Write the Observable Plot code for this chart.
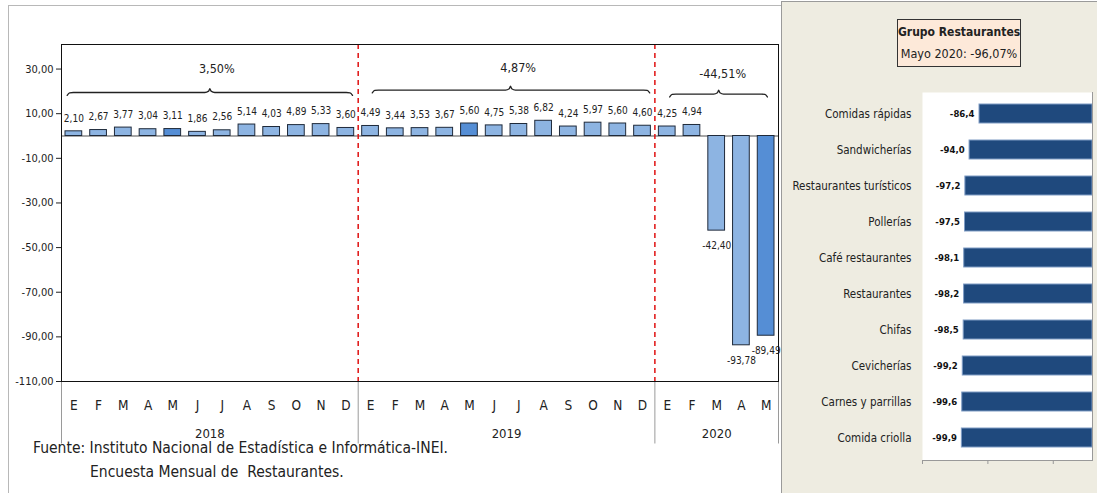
<!DOCTYPE html>
<html><head><meta charset="utf-8">
<script src="https://cdn.jsdelivr.net/npm/d3@7"></script>
<script src="https://cdn.jsdelivr.net/npm/@observablehq/plot@0.6"></script>
<style>
body{margin:0;width:1097px;height:493px;position:relative;overflow:hidden;background:#fff;
 font-family:"Liberation Sans Narrow","DejaVu Sans Condensed","Roboto Condensed",sans-serif;color:#222;}
#leftbox{position:absolute;left:8px;top:5px;width:774px;height:500px;border:1px solid #b8b8b8;box-sizing:border-box;}
#rightbox{position:absolute;left:781px;top:1px;width:318px;height:500px;background:#EEECE1;border:1px solid #9a9a9a;box-sizing:border-box;}
#left{position:absolute;left:0;top:0}
#right{position:absolute;left:781px;top:0}
#titlebox{position:absolute;left:897px;top:19px;width:124px;height:48px;background:#FDE9D9;border:1px solid #333;box-sizing:border-box;text-align:center;font-size:12.5px;line-height:22px;padding-top:1px;white-space:nowrap;}
#titlebox b{display:block;font-size:12px}
#caption{position:absolute;left:33px;top:436px;font-size:15.5px;line-height:24px;}
#caption .l2{padding-left:57px}
</style></head>
<body>
<div id="leftbox"></div>
<div id="rightbox"></div>
<div id="left"></div>
<div id="right"></div>
<div id="titlebox"><b>Grupo Restaurantes</b>Mayo 2020: -96,07%</div>
<div id="caption">Fuente: Instituto Nacional de Estadística e Informática-INEI.<div class="l2">Encuesta Mensual de&nbsp; Restaurantes.</div></div>
<script>
// ---- data: monthly variation (%) ----
const monthLetters = ["E","F","M","A","M","J","J","A","S","O","N","D"];
const years = ["2018","2019","2020"];
const values2018 = [2.10, 2.67, 3.77, 3.04, 3.11, 1.86, 2.56, 5.14, 4.03, 4.89, 5.33, 3.60];
const values2019 = [4.49, 3.44, 3.53, 3.67, 5.60, 4.75, 5.38, 6.82, 4.24, 5.97, 5.60, 4.60];
const values2020 = [4.25, 4.94, -42.40, -93.78, -89.49];
const highlightMonth = 4; // mayo
const yTicks = [30, 10, -10, -30, -50, -70, -90, -110];
// annual summary braces (index units / value units)
const braceLabels = ["3,50%", "4,87%", "-44,51%"];
const braceStart = [0.23, 12.57, 24.6];
const braceEnd = [11.77, 23.79, 28.55];
const braceMid = [6.0, 18.16, 26.58];
const braceLevel = [19.5, 20.6, 18.8];
const braceLabelX = [6.28, 18.47, 26.74];
const braceLabelY = [30.1, 30.5, 27.8];

// ---- data: right panel ----
const categories = ["Comidas rápidas","Sandwicherías","Restaurantes turísticos","Pollerías","Café restaurantes","Restaurantes","Chifas","Cevicherías","Carnes y parrillas","Comida criolla"];
const catValues = [-86.4, -94.0, -97.2, -97.5, -98.1, -98.2, -98.5, -99.2, -99.6, -99.9];

const FONT = '"Liberation Sans Narrow","DejaVu Sans Condensed","Roboto Condensed",sans-serif';
const loc = d3.formatLocale({decimal: ",", thousands: ".", grouping: [3], currency: ["", ""], minus: "-"});
const f2 = loc.format(".2f"), f1 = loc.format(".1f");

const series = [values2018, values2019, values2020];
const rows = [];
series.forEach((vals, yi) => vals.forEach((v, m) => rows.push({i: rows.length, m, month: monthLetters[m], year: years[yi], v})));
const yearGroups = years.map((y, k) => {
  const r = rows.filter(d => d.year === y);
  return {year: y, start: r[0].i, end: r[r.length - 1].i + 1};
});
const braces = braceLabels.map((label, k) => ({label, a: braceStart[k], b: braceEnd[k], m: braceMid[k], L: braceLevel[k], lx: braceLabelX[k], ly: braceLabelY[k]}));
const bracePts = braces.flatMap((br, k) => [
  {k, x: br.a, y: br.L - 1.3},
  {k, x: br.a + 0.1, y: br.L - 0.15},
  {k, x: br.a + 0.25, y: br.L},
  {k, x: br.m - 0.2, y: br.L},
  {k, x: br.m - 0.05, y: br.L + 0.6},
  {k, x: br.m, y: br.L + 1.7},
  {k, x: br.m + 0.05, y: br.L + 0.6},
  {k, x: br.m + 0.2, y: br.L},
  {k, x: br.b - 0.25, y: br.L},
  {k, x: br.b - 0.1, y: br.L - 0.15},
  {k, x: br.b, y: br.L - 1.3}
]);
const yMin = -110, yMax = 41;
const sepBottom = -138;

const left = Plot.plot({
  width: 780, height: 493,
  marginLeft: 61, marginRight: 2, marginTop: 44, marginBottom: 112,
  style: {fontFamily: FONT, fontSize: "11px", color: "#222", background: "transparent", overflow: "visible"},
  x: {domain: [0, rows.length], axis: null},
  y: {domain: [yMin, yMax], ticks: yTicks, tickFormat: f2, tickSize: 5, tickPadding: 3, label: null, line: false},
  marks: [
    Plot.ruleY([0], {stroke: "#8a8a8a", strokeWidth: 1.5}),
    Plot.rectY(rows, {x1: "i", x2: d => d.i + 1, y: "v", insetLeft: 4, insetRight: 4,
      fill: d => d.m === highlightMonth ? "#558ED5" : "#8DB4E2", stroke: "#1f2a3a", strokeWidth: 1}),
    Plot.text(rows.filter(d => d.v >= 0), {x: d => d.i + 0.5, y: "v", text: d => f2(d.v), dy: -13, fontSize: 10, fill: "#222"}),
    Plot.text(rows.filter(d => d.v < 0), {x: d => d.i + 0.5, y: "v", text: d => f2(d.v), dy: 15, fontSize: 10, fill: "#222"}),
    Plot.ruleX(yearGroups.slice(1), {x: "start", stroke: "#e01010", strokeWidth: 1.5, strokeDasharray: "5,4"}),
    Plot.ruleX([...yearGroups.map(d => d.start), rows.length], {x: d => d, y1: yMin, y2: sepBottom, stroke: "#9a9a9a"}),
    Plot.frame({stroke: "#111"}),
    Plot.line(bracePts, {x: "x", y: "y", z: "k", curve: "monotone-x", stroke: "#222", strokeWidth: 1.3}),
    Plot.text(braces, {x: "lx", y: "ly", text: "label", fontSize: 12.5, fill: "#222"}),
    Plot.text(rows, {x: d => d.i + 0.5, y: yMin, text: "month", dy: 24, fontSize: 13.5, fill: "#222"}),
    Plot.text(yearGroups, {x: d => (d.start + d.end) / 2, y: yMin, text: "year", dy: 52, fontSize: 13, fill: "#222"})
  ]
});
document.getElementById("left").append(left);

const cats = categories.map((name, k) => ({name, v: catValues[k]}));
const right = Plot.plot({
  width: 316, height: 493,
  marginLeft: 141, marginRight: 5, marginTop: 92, marginBottom: 33,
  style: {fontFamily: FONT, fontSize: "11.5px", color: "#222", background: "transparent", overflow: "visible"},
  x: {domain: [-130, 0], ticks: [-130, -80, -30], tickFormat: () => "", tickSize: 4, label: null},
  y: {domain: categories, paddingInner: 0.46, paddingOuter: 0.23, tickSize: 0, tickPadding: 11, label: null},
  marks: [
    Plot.frame({fill: "#fff", stroke: null}),
    Plot.barX(cats, {x1: "v", x2: 0, y: "name", fill: "#1F497D", stroke: "#7f9cc4", strokeWidth: 1}),
    Plot.text(cats, {x: "v", y: "name", text: d => f1(d.v), dx: -5, textAnchor: "end", fontWeight: "bold", fontSize: 9.5, fill: "#111"}),
    Plot.ruleX([0], {stroke: "#999"}),
    Plot.frame({anchor: "bottom", stroke: "#999"}),
    Plot.axisX({ticks: [-130, -80, -30], tickFormat: () => "", tickSize: 4, stroke: "#999"})
  ]
});
document.getElementById("right").append(right);
</script>
</body></html>
